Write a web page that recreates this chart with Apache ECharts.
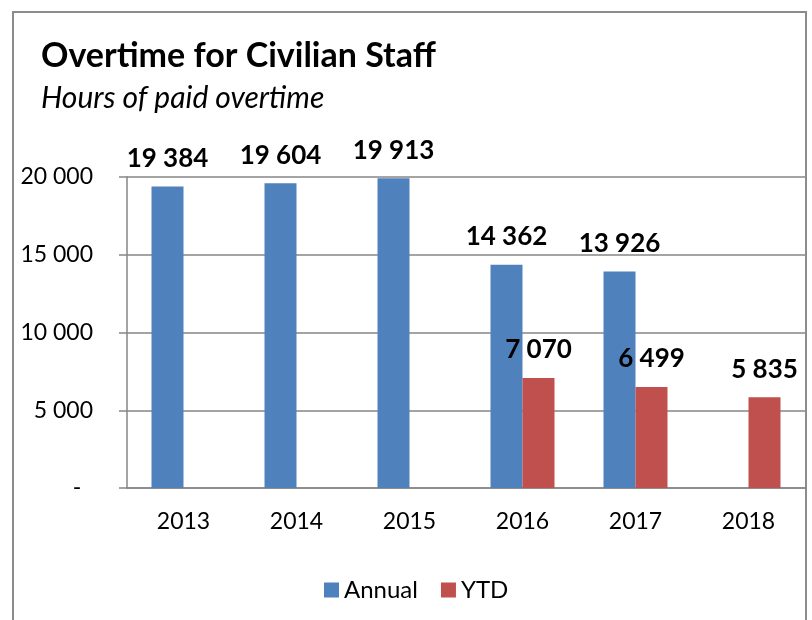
<!DOCTYPE html>
<html>
<head>
<meta charset="utf-8">
<script src="https://cdn.jsdelivr.net/npm/echarts@6/dist/echarts.min.js"></script>
<style>
  html, body { margin: 0; padding: 0; background: #fff; }
  #chart { width: 812px; height: 620px; }
</style>
</head>
<body>
<div id="chart"></div>
<script>
const years = ['2013', '2014', '2015', '2016', '2017', '2018'];
const annual = [19384, 19604, 19913, 14362, 13926, null];
const ytd = [null, null, null, 7070, 6499, 5835];
const yTicks = [0, 5000, 10000, 15000, 20000];

// "19384" -> "19 384"
function spaced(v) {
    return String(v).replace(/\B(?=(\d{3})+(?!\d))/g, ' ');
}

var mychart = echarts.init(document.getElementById('chart'));
const font = 'Lato';
const option = {
    animation: false,
    textStyle: { fontFamily: font },
    title: [
        {
            text: 'Overtime for Civilian Staff',
            left: 36, top: 34,
            textStyle: { fontFamily: font, fontSize: 34, fontWeight: 'bold', color: '#000' }
        },
        {
            text: 'Hours of paid overtime',
            left: 36, top: 78,
            textStyle: { fontFamily: font, fontSize: 30, fontStyle: 'italic', fontWeight: 'normal', color: '#000' }
        }
    ],
    graphic: [
        {
            type: 'rect',
            shape: { x: 13, y: 12, width: 793, height: 700 },
            style: { fill: 'none', stroke: '#8c8c8c', lineWidth: 2 },
            silent: true
        }
    ],
    legend: {
        left: 319, top: 573,
        itemWidth: 15, itemHeight: 15, itemGap: 23,
        icon: 'rect',
        textStyle: { fontFamily: font, fontSize: 24, color: '#000' },
        data: ['Annual', 'YTD']
    },
    grid: { left: 127, right: 7, top: 177, bottom: 132 },
    xAxis: {
        type: 'category',
        data: years,
        axisLine: { lineStyle: { color: '#868686', width: 1.5 } },
        axisTick: { length: 8, lineStyle: { color: '#868686', width: 1.5 } },
        axisLabel: { margin: 22, fontSize: 23, color: '#000', fontFamily: font }
    },
    yAxis: {
        type: 'value',
        min: yTicks[0],
        max: yTicks[yTicks.length - 1],
        interval: 5000,
        axisLine: { show: true, lineStyle: { color: '#868686', width: 1.5 } },
        axisTick: { show: true, length: 8, lineStyle: { color: '#868686', width: 1.5 } },
        splitLine: { lineStyle: { color: '#868686', width: 1.5 } },
        axisLabel: {
            margin: 34, fontSize: 23, color: '#000', fontFamily: font,
            formatter: function (v) { return v === 0 ? '-  ' : spaced(v); }
        }
    },
    series: [
        {
            name: 'Annual',
            type: 'bar',
            data: annual,
            barWidth: 32,
            barGap: '0%',
            itemStyle: { color: '#4f81bd' },
            label: {
                show: true, position: 'top', distance: 15,
                fontSize: 26, fontWeight: 'bold', color: '#000', fontFamily: font,
                formatter: function (p) { return spaced(p.value); }
            }
        },
        {
            name: 'YTD',
            type: 'bar',
            data: ytd,
            barWidth: 32,
            barGap: '0%',
            itemStyle: { color: '#c0504d' },
            label: {
                show: true, position: 'top', distance: 15,
                fontSize: 26, fontWeight: 'bold', color: '#000', fontFamily: font,
                formatter: function (p) { return spaced(p.value); }
            }
        }
    ]
};
mychart.setOption(option);
</script>
</body>
</html>
